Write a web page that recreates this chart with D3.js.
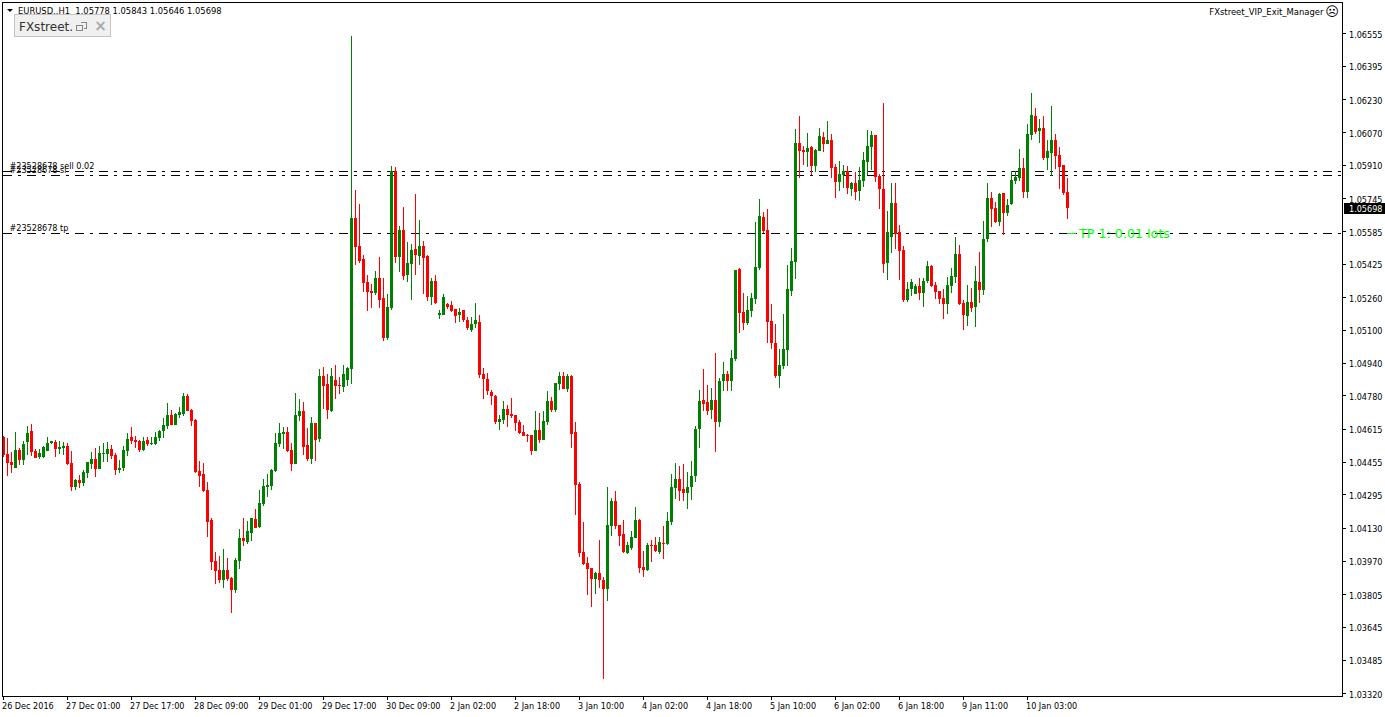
<!DOCTYPE html>
<html><head><meta charset="utf-8">
<script src="https://cdn.jsdelivr.net/npm/d3@7"></script>
<style>
html,body{margin:0;padding:0;background:#fff;overflow:hidden}
svg{display:block}
text{font-family:"DejaVu Sans Condensed","DejaVu Sans",sans-serif;font-size:9px;fill:#000;white-space:pre}
</style></head><body>
<svg id="c" width="1385" height="717"></svg>
<script>
// EURUSD H1 candles. Values are points above 1.00000 (5778 = 1.05778)
const open=[
4576,4492,4453,4424,4512,4463,4551,4605,4507,4478,4478,4507,4546,4551,4517,4522,
4532,4448,4331,4365,4350,4399,4443,4468,4419,4492,4492,4517,4487,4414,4424,4507,
4576,4561,4556,4512,4561,4541,4541,4571,4605,4630,4683,4634,4683,4688,4777,4708,
4659,4409,4394,4316,4169,3968,3924,3875,3924,3885,3826,3968,4081,4061,4105,4174,
4135,4247,4331,4336,4409,4541,4590,4600,4512,4443,4679,4703,4537,4468,4644,4566,
4875,4835,4703,4855,4830,4821,4855,4909,5649,5512,5448,5335,5291,5281,5355,5257,
5061,5208,5879,5458,5590,5369,5423,5497,5463,5512,5463,5262,5340,5173,5173,5227,
5222,5203,5173,5198,5149,5100,5129,5139,4884,4860,4796,4777,4649,4659,4713,4688,
4683,4649,4600,4585,4585,4507,4610,4561,4649,4752,4708,4835,4875,4811,4875,4600,
4345,4012,3958,3934,3880,3909,3875,3831,4140,4262,4144,4100,4007,4032,4081,4169,
3939,3924,4046,4046,4012,4056,4051,4159,4326,4370,4321,4301,4331,4385,4615,4757,
4747,4708,4757,4649,4850,4884,4850,4958,5399,5188,5134,5193,5252,5404,5654,5590,
5144,5036,4875,4923,5002,5291,5433,6016,5982,5972,5997,5904,5977,6046,6011,6031,
5899,5825,5859,5879,5791,5820,5781,5830,5923,5997,6056,5855,5791,5428,5556,5722,
5580,5492,5247,5301,5276,5316,5281,5340,5414,5320,5291,5257,5227,5316,5360,5472,
5232,5169,5237,5213,5335,5296,5546,5747,5698,5629,5771,5673,5717,5830,5845,5894,
5776,6056,6149,6075,6090,5943,5967,6031,5958,5908,5778];
const high=[
4581,4571,4502,4600,4522,4556,4630,4639,4517,4517,4532,4576,4556,4561,4556,4551,
4546,4507,4370,4389,4414,4453,4502,4522,4532,4546,4551,4537,4497,4463,4532,4595,
4625,4581,4561,4576,4576,4576,4600,4610,4669,4742,4708,4693,4723,4791,4786,4713,
4664,4458,4448,4355,4179,4012,3993,4027,3983,3890,3983,4125,4179,4164,4179,4223,
4316,4370,4394,4419,4595,4644,4625,4625,4546,4791,4762,4747,4620,4674,4644,4909,
4919,4884,4914,4928,4870,4928,4919,6541,5786,5717,5467,5369,5325,5389,5458,5355,
5276,5904,5899,5610,5703,5531,5521,5766,5639,5536,5467,5355,5369,5198,5276,5232,
5242,5203,5208,5198,5164,5164,5232,5173,4914,4889,4806,4781,4683,4752,4732,4767,
4683,4659,4634,4590,4585,4703,4693,4703,4801,4772,4840,4894,4894,4884,4879,4649,
4355,4159,3988,3934,3914,4071,3890,4331,4277,4311,4144,4169,4061,4115,4233,4174,
4017,4056,4071,4086,4086,4140,4208,4394,4448,4433,4443,4404,4458,4630,4806,4909,
4830,4816,4987,4865,4943,4899,5002,5394,5404,5281,5267,5281,5629,5742,5678,5693,
5227,5129,5007,5178,5418,5502,6085,6149,6002,6065,6002,5987,6090,6070,6124,6060,
5913,5928,5908,5904,5825,5874,5899,5972,6080,6075,6056,5864,6212,5683,5820,5820,
5615,5512,5335,5350,5325,5355,5355,5438,5418,5335,5291,5301,5360,5404,5556,5516,
5247,5320,5306,5414,5482,5634,5820,5776,5727,5771,5771,5742,5879,5879,5987,5943,
6109,6261,6188,6134,6149,6031,6198,6060,5997,5908,5843];
const low=[
4478,4385,4399,4424,4438,4438,4487,4483,4473,4468,4473,4507,4541,4478,4492,4487,
4438,4311,4316,4326,4336,4375,4419,4380,4419,4453,4453,4468,4389,4399,4409,4483,
4541,4522,4502,4507,4532,4537,4537,4556,4571,4615,4634,4634,4669,4679,4703,4630,
4399,4331,4306,4086,3924,3855,3860,3836,3870,3713,3811,3929,4042,4051,4066,4130,
4130,4238,4282,4316,4404,4527,4517,4502,4409,4443,4654,4487,4458,4443,4458,4551,
4713,4664,4698,4762,4786,4796,4826,4835,5418,5428,5286,5193,5208,5271,5208,5046,
5051,5198,5428,5384,5345,5335,5247,5369,5418,5276,5242,5222,5227,5154,5173,5203,
5188,5134,5139,5139,5100,5090,5110,4865,4762,4781,4732,4639,4610,4639,4625,4669,
4605,4590,4581,4551,4487,4507,4546,4561,4634,4698,4698,4806,4811,4796,4522,4193,
3988,3948,3801,3743,3806,3836,3390,3772,4091,4125,4042,4007,4002,4022,4081,3909,
3890,3919,3963,4012,4002,3978,4046,4144,4272,4262,4262,4223,4267,4355,4522,4703,
4683,4664,4502,4625,4801,4801,4801,4948,5085,5100,5125,5164,5227,5394,5575,5036,
5007,4865,4816,4909,4923,5267,5350,5845,5908,5899,5859,5874,5977,5972,6011,5845,
5747,5781,5796,5766,5757,5737,5732,5801,5859,5884,5825,5693,5379,5345,5477,5497,
5345,5237,5237,5267,5276,5247,5213,5330,5311,5252,5227,5154,5178,5281,5330,5222,
5100,5119,5188,5115,5232,5271,5531,5605,5624,5610,5565,5659,5712,5815,5830,5747,
5747,6031,6060,6016,5933,5884,5855,5889,5791,5761,5646];
const close=[
4487,4448,4438,4512,4463,4541,4595,4502,4473,4497,4527,4546,4556,4517,4527,4532,
4443,4331,4365,4350,4404,4453,4468,4419,4497,4497,4517,4483,4414,4424,4512,4566,
4556,4551,4512,4556,4541,4546,4576,4605,4634,4683,4634,4688,4698,4777,4703,4654,
4404,4385,4311,4159,3963,3919,3875,3924,3880,3826,3973,4081,4066,4115,4179,4130,
4252,4336,4341,4414,4546,4595,4600,4507,4443,4683,4703,4527,4468,4644,4561,4875,
4826,4708,4875,4826,4826,4884,4914,5649,5507,5438,5330,5286,5281,5355,5247,5061,
5213,5879,5458,5590,5365,5428,5492,5467,5512,5453,5262,5340,5232,5183,5262,5213,
5193,5169,5188,5149,5110,5129,5149,4879,4860,4801,4777,4649,4664,4713,4683,4679,
4644,4595,4581,4581,4507,4610,4561,4654,4752,4708,4840,4875,4811,4875,4590,4340,
4007,3953,3929,3880,3909,3875,3831,4144,4262,4140,4091,4012,4046,4086,4169,3934,
3924,4046,4042,4017,4061,4051,4164,4331,4370,4311,4301,4331,4385,4615,4752,4737,
4703,4757,4649,4850,4884,4850,4963,5394,5183,5134,5198,5257,5409,5659,5585,5139,
5036,4875,4928,5007,5301,5438,6016,5977,5972,5992,5904,5982,6051,6011,6031,5894,
5825,5864,5879,5796,5820,5776,5835,5933,6002,6056,5850,5791,5423,5580,5722,5570,
5487,5247,5301,5335,5316,5281,5340,5414,5316,5286,5252,5227,5320,5365,5472,5227,
5173,5237,5208,5340,5296,5546,5747,5693,5629,5766,5673,5712,5835,5850,5894,5776,
6060,6153,6070,6090,5943,5977,6031,5953,5899,5771,5698];

const priceTicks=[1.06555,1.06395,1.06230,1.06070,1.05910,1.05745,1.05585,1.05425,1.05260,1.05100,1.04940,1.04780,1.04615,1.04455,1.04295,1.04130,1.03970,1.03805,1.03645,1.03485,1.03320];
const timeLabels=["26 Dec 2016","27 Dec 01:00","27 Dec 17:00","28 Dec 09:00","29 Dec 01:00","29 Dec 17:00","30 Dec 09:00","2 Jan 02:00","2 Jan 18:00","3 Jan 10:00","4 Jan 02:00","4 Jan 18:00","5 Jan 10:00","6 Jan 02:00","6 Jan 18:00","9 Jan 11:00","10 Jan 03:00"];
const orderLevels=[{name:"#23528678 sell 0.02",price:1.05879,dy:-2},{name:"#23528678 sl",price:1.05859,dy:-2},{name:"#23528678 tp",price:1.05575,dy:-2}];
const lastPrice=1.05698;
const barsPerLabel=16;
const titleText="EURUSD..H1  1.05778 1.05843 1.05646 1.05698";

const toPrice=v=>1+v/1e5;
const svg=d3.select("#c");
const x=d3.scaleLinear([0,266],[3.5,1067.5]);
const y=d3.scaleLinear([1.06717,1.03321],[0,693]);
const py=p=>Math.round(y(p));

// order lines
const gl=svg.append("g");
orderLevels.forEach(o=>{
  gl.append("line").attr("x1",3).attr("x2",1341).attr("y1",py(o.price)+.5).attr("y2",py(o.price)+.5)
    .attr("stroke","#000").attr("stroke-dasharray","9 6 3 6");
  gl.append("text").attr("x",9.5).attr("y",py(o.price)+o.dy).text(o.name);
});

// candles
const bars=d3.range(open.length).map(i=>({i,o:toPrice(open[i]),h:toPrice(high[i]),l:toPrice(low[i]),c:toPrice(close[i])}));
const col=d=>d.c>=d.o?"#008000":"#ff0000";
const g=svg.append("g").attr("shape-rendering","crispEdges");
g.selectAll(".w").data(bars).join("rect").attr("class","w")
  .attr("x",d=>x(d.i)-.5).attr("width",1)
  .attr("y",d=>py(d.h)).attr("height",d=>Math.max(1,py(d.l)-py(d.h))).attr("fill",col);
g.selectAll(".b").data(bars).join("rect").attr("class","b")
  .attr("x",d=>x(d.i)-1.5).attr("width",3)
  .attr("y",d=>py(Math.max(d.o,d.c))).attr("height",d=>Math.max(1,py(Math.min(d.o,d.c))-py(Math.max(d.o,d.c)))).attr("fill",col);

// TP label
svg.append("line").attr("x1",1067).attr("x2",1076).attr("y1",233.5).attr("y2",233.5).attr("stroke","#00ff00");
svg.append("text").attr("x",1079).attr("y",237.5).style("font-family","'DejaVu Sans'").style("font-size","12.7px").style("fill","#00ff00").text("TP 1: 0.01 lots");

// frame
svg.append("rect").attr("x",2.5).attr("y",2.5).attr("width",1340).attr("height",694).attr("fill","none").attr("stroke","#000").attr("shape-rendering","crispEdges");

// axes
const ay=svg.append("g").attr("transform","translate(1342,0)").call(d3.axisRight(y).offset(0.5).tickValues(priceTicks).tickSize(4).tickPadding(3).tickFormat(d3.format(".5f")));
ay.select(".domain").remove();
ay.selectAll("line").attr("transform",d=>`translate(0,${py(d)-y(d)})`).attr("shape-rendering","crispEdges");
ay.selectAll("text").attr("dy",null).attr("y",4).attr("x",7);
ay.attr("font-size",null).attr("font-family",null);
const labelIdx=timeLabels.map((_,k)=>k*barsPerLabel);
const ax=svg.append("g").attr("transform","translate(0,696)").call(d3.axisBottom(x).offset(0).tickValues(labelIdx).tickSize(4).tickFormat((d,k)=>timeLabels[k]));
ax.select(".domain").remove();
ax.selectAll("line").attr("shape-rendering","crispEdges");
ax.selectAll("text").attr("text-anchor","start").attr("dy",null).attr("x",-1.5).attr("y",13);
ax.attr("font-size",null).attr("font-family",null);

// last price tag
svg.append("rect").attr("x",1344).attr("y",203).attr("width",41).attr("height",11).attr("fill","#000");
svg.append("text").attr("x",1349).attr("y",py(lastPrice)+4).style("fill","#fff").text(lastPrice.toFixed(5));

// header
svg.append("path").attr("d","M7 9H13L10 12Z").attr("fill","#000");
svg.append("text").attr("x",18).attr("y",14).style("font-size","9.3px").text(titleText);
svg.append("text").attr("x",1323.5).attr("y",15).attr("text-anchor","end").style("font-size","9.4px").text("FXstreet_VIP_Exit_Manager");
svg.append("text").attr("x",1332).attr("y",16).attr("text-anchor","middle").style("font-family","'DejaVu Sans'").style("font-size","13px").text("\u2639");

// FXstreet box
svg.append("rect").attr("x",14.5).attr("y",14.5).attr("width",96).attr("height",22).attr("fill","#f0f0f0").attr("stroke","#c4c4c4");
svg.append("text").attr("x",19).attr("y",31).style("font-family","'DejaVu Sans'").style("font-size","12px").style("fill","#333").text("FXstreet.");
svg.append("path").attr("d","M80.5 22.5h6v6h-3M76.5 25.5h6v5h-6z").attr("fill","none").attr("stroke","#888").attr("shape-rendering","crispEdges");
svg.append("text").attr("x",100.5).attr("y",31).attr("text-anchor","middle").style("font-family","'DejaVu Sans'").style("font-size","15px").style("font-weight","bold").style("fill","#aaa").text("\u00d7");
</script></body></html>
